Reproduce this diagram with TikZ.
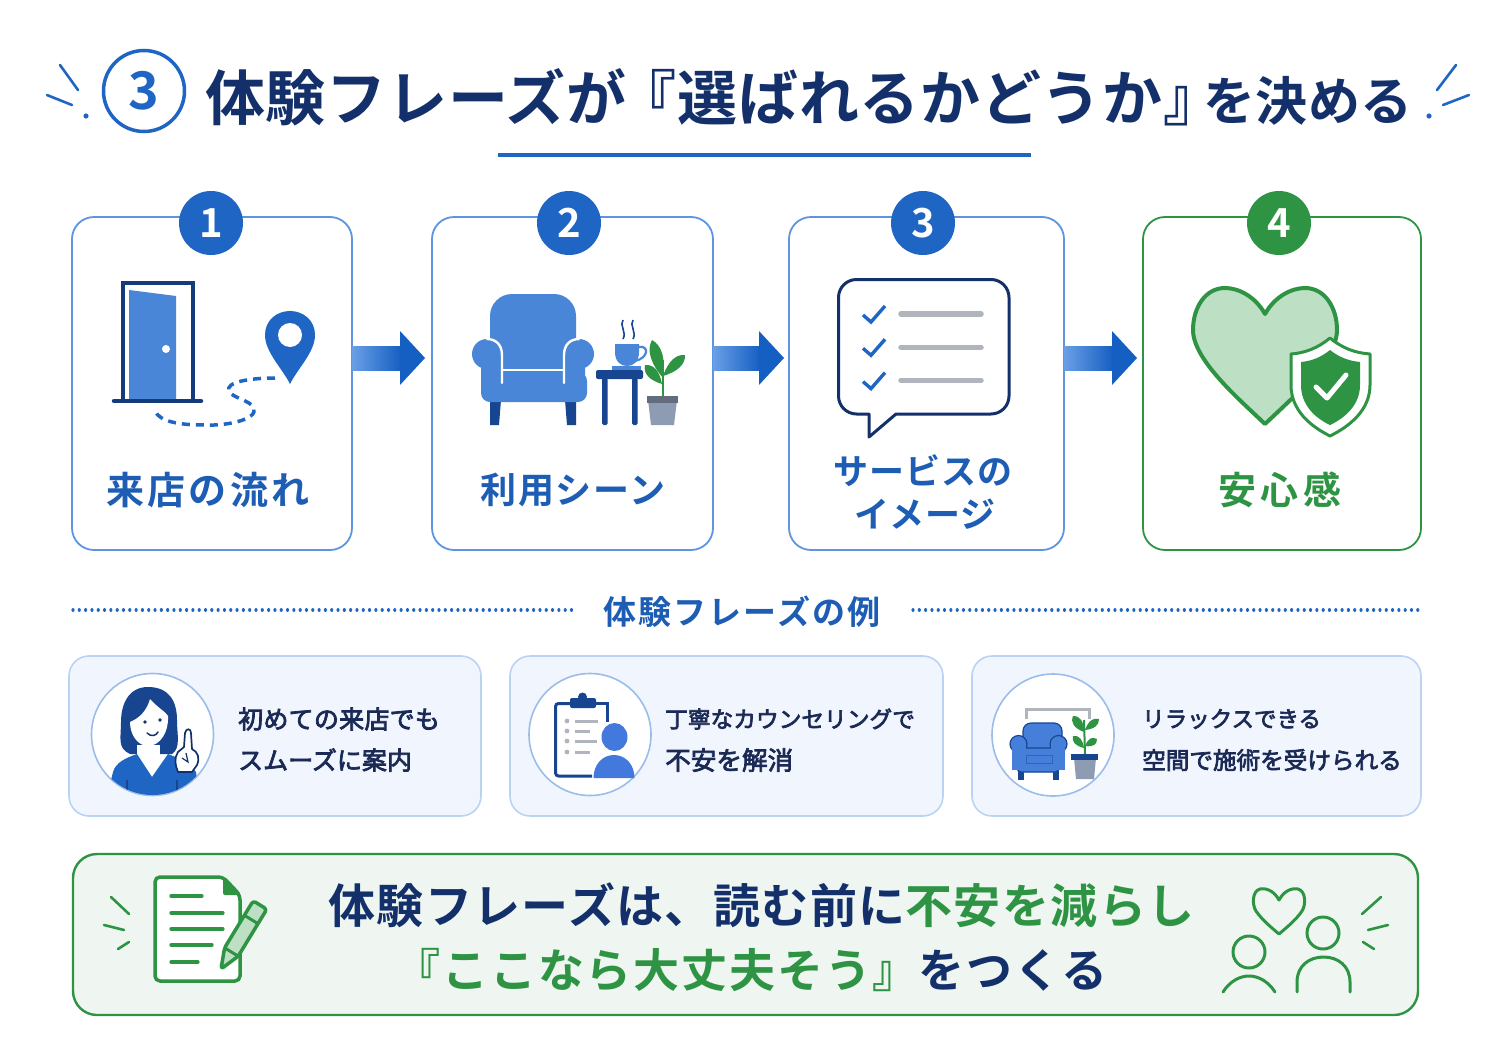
\documentclass[tikz,border=0pt]{standalone}
\usepackage{fontspec}
\usetikzlibrary{calc}
\setmainfont{Noto Sans CJK JP}
\newfontfamily\jb{Noto Sans CJK JP Bold}[BoldFont={Noto Sans CJK JP Bold}]
\newfontfamily\jm{Noto Sans CJK JP}[FakeBold=3]
\definecolor{blu}{HTML}{1F66C4}
\definecolor{chair}{HTML}{4A86D8}
\definecolor{navy}{HTML}{14306A}
\definecolor{dkblue}{HTML}{174590}
\definecolor{grn}{HTML}{2E9444}
\definecolor{ltgrn}{HTML}{BDE0C5}
\definecolor{pale}{HTML}{F1F5FD}
\definecolor{paleline}{HTML}{BBD3F3}
\definecolor{ring}{HTML}{9BBDEB}
\definecolor{banner}{HTML}{EFF6F1}
\definecolor{gry}{HTML}{B0B4BC}
\definecolor{pot}{HTML}{8D9BB3}
\definecolor{edge}{HTML}{5E95E0}
\definecolor{ink}{HTML}{1B2A55}
\definecolor{shafta}{HTML}{6A9FE6}
\definecolor{headb}{HTML}{155FC2}
\newcommand\sized[2]{\fontsize{#1}{#1}\selectfont\addfontfeatures{LetterSpace=#2}}
\newcommand\flowarrow[2]{\shade[left color=shafta,right color=headb] ($(#1)+(0,-12)$) -- ($(#2)+(-24,-12)$) -- ($(#2)+(-24,12)$) -- ($(#1)+(0,12)$) -- cycle;
\fill[headb] ($(#2)+(-25,-27)$) -- (#2) -- ($(#2)+(-25,27)$) -- cycle;}
\newcommand\leaf[4]{\fill[#4] (#1) .. controls ($(#1)!.45!(#2)!#3pt!90:(#2)$) and ($(#1)!.8!(#2)!#3pt!90:(#2)$) .. (#2) .. controls ($(#1)!.8!(#2)!#3pt!-90:(#2)$) and ($(#1)!.45!(#2)!#3pt!-90:(#2)$) .. (#1) -- cycle;}
\tikzset{
  x=1pt,y=-1pt,
  stepcard/.style={draw=edge,line width=1.8pt,fill=white,rounded corners=22pt,inner sep=0,outer sep=0},
  greencard/.style={stepcard,draw=grn},
  badge/.style={circle,fill=blu,text=white,minimum size=64pt,inner sep=0,font=\jb\sized{40}{0}},
  greenbadge/.style={badge,fill=grn},
  steplabel/.style={text=blu!92!black,inner sep=0,align=center},
  excard/.style={draw=paleline,line width=1.6pt,fill=pale,rounded corners=20pt,inner sep=0,outer sep=0},
  exring/.style={circle,draw=ring,line width=1.6pt,fill=white,minimum size=122pt,inner sep=0},
  extext/.style={text=ink,inner sep=0,anchor=west},
  spark/.style={line width=2.6pt,line cap=round,draw=blu},
  gspark/.style={line width=2.6pt,line cap=round,draw=grn},
  dotline/.style={draw=blu,line width=3.2pt,line cap=round,dash pattern=on 0.01pt off 6.3pt},
  gline/.style={draw=grn,line width=3.2pt,line cap=round},
}
\begin{document}
\begin{tikzpicture}
\useasboundingbox (0,0) rectangle (1491,1055);
\fill[white] (0,0) rectangle (1491,1055);

% ---- title
\node[circle,draw=blu,line width=3.5pt,minimum size=81pt,inner sep=0,text=blu,font=\jb\sized{52}{0}] (tnum) at (144,91) {3};
\node[inner sep=0,anchor=west,text=navy,font=\jb] (title) at (205,97) {\sized{60}{1.2}体験フレーズが\hspace{-0.16em}『選ばれるかどうか』\hspace{-0.34em}\sized{52}{1}を決める};
\draw[blu,line width=3.5pt] (498,155) -- (1031,155);
\draw[spark] (60,65) -- (78,90); \draw[spark] (47,95) -- (72,105); \fill[blu] (86,116) circle[radius=2.6pt];
\draw[spark] (1456,65) -- (1437,90); \draw[spark] (1469,95) -- (1443,105); \fill[blu] (1429,116) circle[radius=2.6pt];

% ---- step cards
\node[stepcard,minimum width=280pt,minimum height=333pt] (c1) at (212,383.5) {};
\node[stepcard,minimum width=281pt,minimum height=333pt] (c2) at (572.5,383.5) {};
\node[stepcard,minimum width=275pt,minimum height=333pt] (c3) at (926.5,383.5) {};
\node[greencard,minimum width=278pt,minimum height=333pt] (c4) at (1282,383.5) {};
\node[badge] (b1) at (211,223) {1};
\node[badge] (b2) at (569,223) {2};
\node[badge] (b3) at (923,223) {3};
\node[greenbadge] (b4) at (1279,223) {4};
\node[steplabel,font=\jb\sized{38}{8}] (l1) at (208,490) {来店の流れ};
\node[steplabel,font=\jb\sized{36}{5}] (l2) at (573,490) {利用シーン};
\node[steplabel,font=\jb\sized{35}{3}] (l3a) at (923,471) {サービスの};
\node[steplabel,font=\jb\sized{35}{2}] (l3b) at (925,514) {イメージ};
\node[steplabel,text=grn,font=\jb\sized{38}{11}] (l4) at (1280,490) {安心感};

% ---- connectors
\path (c1.east) ++(0,-25.5) coordinate (a1s);
\path (c2.west) ++(-7,-25.5) coordinate (a1e);
\path (c2.east) ++(0,-25.5) coordinate (a2s);
\path (c3.west) ++(-5,-25.5) coordinate (a2e);
\path (c3.east) ++(0,-25.5) coordinate (a3s);
\path (c4.west) ++(-6,-25.5) coordinate (a3e);
\flowarrow{a1s}{a1e}
\flowarrow{a2s}{a2e}
\flowarrow{a3s}{a3e}

% ---- door icon
\fill[chair] (129,290) -- (176,296) -- (176,399) -- (129,399) -- cycle;
\fill[white] (166,349) circle[radius=4pt];
\draw[dkblue!85!black,line width=4pt] (122.5,400) -- (122.5,283) -- (192.5,283) -- (192.5,400);
\draw[dkblue!85!black,line width=4.5pt,line cap=round] (114,401) -- (201,401);
\fill[blu] (290,384) .. controls (282,368) and (265,352) .. (265,335) .. controls (265,320) and (277,311) .. (290,311) .. controls (303,311) and (315,320) .. (315,335) .. controls (315,352) and (298,368) .. (290,384) -- cycle;
\fill[white] (290,335) circle[radius=12pt];
\draw[blu,line width=3.5pt,dash pattern=on 8pt off 6pt] (275,378) .. controls (250,378) and (225,382) .. (229,391) .. controls (232,398) and (250,400) .. (254,408) .. controls (258,420) and (225,426) .. (205,425) .. controls (180,425) and (160,422) .. (155,411);

% ---- chair icon
\fill[dkblue] (490,400) -- (501,400) -- (499,425) -- (490,425) -- cycle;
\fill[dkblue] (565,400) -- (576,400) -- (576,425) -- (567,425) -- cycle;
\fill[chair,rounded corners=22pt] (490,385) -- (490,294) -- (576,294) -- (576,385) -- cycle;
\fill[chair,rounded corners=9pt] (481,372) rectangle (587,402);
\fill[chair] (487,354) circle[radius=15pt];
\fill[chair] (579,354) circle[radius=15pt];
\fill[chair,rounded corners=5pt] (481,350) rectangle (502,385);
\fill[chair,rounded corners=5pt] (564,350) rectangle (585,385);
\draw[white,line width=2.4pt,line cap=round] (502,383) -- (502,355) .. controls (502,345) and (496,339) .. (487,339);
\draw[white,line width=2.4pt,line cap=round] (564,383) -- (564,355) .. controls (564,345) and (570,339) .. (579,339);
\draw[white,line width=2.4pt] (502,370) -- (564,370);
% table, cup
\fill[dkblue,rounded corners=2pt] (596,370) rectangle (643,379);
\fill[dkblue,rounded corners=1.5pt] (602,378) rectangle (607.5,425);
\fill[dkblue,rounded corners=1.5pt] (632,378) rectangle (637.5,425);
\fill[chair] (612,365.5) rectangle (641,369.5);
\fill[chair] (615,344) -- (639,344) -- (639,352) .. controls (639,362) and (633,366) .. (627,366) .. controls (621,366) and (615,362) .. (615,352) -- cycle;
\draw[chair,line width=2.2pt] (639,347) .. controls (649,345) and (649,358) .. (635,361);
\draw[dkblue,line width=1.6pt] (623,320) .. controls (619,325) and (627,332) .. (623,339);
\draw[dkblue,line width=1.6pt] (633,320) .. controls (629,325) and (637,332) .. (633,339);
% plant
\draw[grn,line width=2pt] (663,398) -- (663,360);
\leaf{663,378}{652,340}{8}{grn}
\leaf{663,376}{685,355}{7}{grn}
\leaf{662,384}{645,365}{7}{grn}
\fill[pot] (648,400) -- (677,400) -- (674,425) -- (651,425) -- cycle;
\fill[pot!70!black] (647,396) rectangle (678,403);

% ---- speech bubble
\draw[navy,line width=3pt,fill=white,line join=round] (869,437) -- (896,414) [rounded corners=18pt] -- (1009,414) -- (1009,279.5) -- (838.5,279.5) -- (838.5,414) [sharp corners] -- (869,414) -- cycle;
\foreach \yy in {0,33.3,66.6}{
  \draw[blu,line width=3.4pt] (863,315+\yy) -- (871,322+\yy) -- (885,306+\yy);
  \draw[gry,line width=5.5pt,line cap=round] (901,314+\yy) -- (981,314+\yy);
}

% ---- heart and shield
\draw[grn,line width=4pt,fill=ltgrn,line join=round] (1265,314) .. controls (1255,296) and (1238,288) .. (1225,288) .. controls (1205,288) and (1193,308) .. (1193,330) .. controls (1193,360) and (1240,400) .. (1265,424) .. controls (1290,400) and (1337,360) .. (1337,330) .. controls (1337,308) and (1325,288) .. (1305,288) .. controls (1292,288) and (1275,296) .. (1265,314) -- cycle;
\draw[grn,line width=3pt,fill=white,line join=round] (1330,338) .. controls (1342,348) and (1355,353) .. (1370,354) -- (1370,385) .. controls (1370,410) and (1350,426) .. (1330,436) .. controls (1310,426) and (1291,410) .. (1291,385) -- (1291,354) .. controls (1305,353) and (1318,348) .. (1330,338) -- cycle;
\fill[grn] (1330,350) .. controls (1340,358) and (1350,361) .. (1360,362) -- (1360,385) .. controls (1360,405) and (1345,418) .. (1330,425) .. controls (1315,418) and (1301,405) .. (1301,385) -- (1301,362) .. controls (1311,361) and (1320,358) .. (1330,350) -- cycle;
\draw[white,line width=5pt,line cap=round,line join=round] (1316,387) -- (1327,398) -- (1346,375);

% ---- section heading
\node[inner sep=0,text=blu!92!black,font=\jb\sized{33}{6}] (sec) at (742,612) {体験フレーズの例};
\coordinate (d1a) at (73,610); \coordinate (d1b) at (575,610);
\coordinate (d2a) at (913,610); \coordinate (d2b) at (1419,610);
\draw[dotline] (d1a) -- (d1b);
\draw[dotline] (d2a) -- (d2b);

% ---- example cards
\node[excard,minimum width=412pt,minimum height=160pt] (e1) at (275,736) {};
\node[excard,minimum width=433pt,minimum height=160pt] (e2) at (726.5,736) {};
\node[excard,minimum width=449pt,minimum height=160pt] (e3) at (1196.5,736) {};
\node[exring] (r1) at (152.5,734.5) {};
\node[exring] (r2) at (590,734.5) {};
\node[exring] (r3) at (1053,735) {};
\node[extext,font=\jm\sized{25}{1}] (t1a) at (238,719) {初めての来店でも};
\node[extext,font=\jm\sized{25}{0}] (t1b) at (238,760) {スムーズに案内};
\node[extext,font=\jm\sized{22.7}{0}] (t2a) at (665,719) {丁寧なカウンセリングで};
\node[extext,font=\jm\sized{25.6}{0}] (t2b) at (665,760) {不安を解消};
\node[extext,font=\jm\sized{22.5}{0}] (t3a) at (1142,719) {リラックスできる};
\node[extext,font=\jm\sized{23.6}{0}] (t3b) at (1142,760) {空間で施術を受けられる};

% person icon
\begin{scope}
\clip (152.5,734.5) circle[radius=60.5pt];
\fill[dkblue] (148,687) .. controls (128,687) and (121,705) .. (121,722) .. controls (121,738) and (117,748) .. (130,754) -- (172,754) .. controls (181,748) and (177,735) .. (177,720) .. controls (177,700) and (168,687) .. (148,687) -- cycle;
\fill[white] (137,745) rectangle (160,765);
\fill[white] (150,699) .. controls (158,708) and (166,712) .. (168,716) .. controls (169,732) and (160,746) .. (148,746) .. controls (138,746) and (130,735) .. (130,722) .. controls (140,718) and (147,710) .. (150,699) -- cycle;
\fill[blu] (106,800) -- (113,772) .. controls (116,762) and (126,758) .. (137,754) -- (152,777) -- (168,754) .. controls (178,758) and (190,762) .. (196,772) -- (200,800) -- cycle;
\draw[dkblue,line width=1.4pt] (127,780) -- (127,800);
\draw[dkblue,line width=1.4pt] (177,780) -- (177,800);
\end{scope}
\fill[navy] (145,722) circle[radius=1.8pt];
\fill[navy] (160,720) circle[radius=1.8pt];
\draw[navy,line width=1.5pt,line cap=round] (147,733) .. controls (151,737) and (156,736) .. (158,732);
\draw[navy,line width=1.7pt,fill=white,line join=round] (178,772) .. controls (175,765) and (174,758) .. (178,752) -- (184,747) -- (185,733) .. controls (186,728) and (191,728) .. (191,733) -- (192,749) .. controls (198,752) and (200,758) .. (197,765) -- (192,772) -- cycle;
\draw[navy,line width=1.2pt] (182,758) -- (188,762) -- (186,753);

% clipboard icon
\draw[dkblue,line width=3pt,rounded corners=3pt] (592,703.5) -- (555.5,703.5) -- (555.5,776) -- (592,776);
\draw[dkblue,line width=3pt] (596,703.5) -- (607,703.5) -- (607,722);
\fill[dkblue,rounded corners=2pt] (570,698) rectangle (596,708);
\fill[dkblue] (582.5,697) circle[radius=4.5pt];
\foreach \yy/\ll in {721/598,731/590,741/597,752/590}{
  \fill[gry] (567,\yy) circle[radius=2.4pt];
  \draw[gry,line width=3pt] (575,\yy) -- (\ll,\yy);
}
\fill[chair!90!blue] (614.5,737) ellipse[x radius=13pt,y radius=14pt];
\fill[chair!90!blue] (593.5,778) .. controls (593.5,765) and (602,755) .. (614,755) .. controls (626,755) and (634.5,765) .. (634.5,778) -- cycle;

% small chair and plant icon
\draw[gry,line width=3pt] (1026.5,719) -- (1026.5,709) -- (1089,709) -- (1089,719);
\fill[dkblue] (1018,770) rectangle (1023.5,780);
\fill[dkblue] (1053,770) rectangle (1058.5,780);
\draw[dkblue,line width=1.2pt,fill=chair!95!blue,rounded corners=8pt] (1023,758) -- (1023,723) -- (1062,723) -- (1062,758) -- cycle;
\draw[dkblue,line width=1.2pt,fill=chair!95!blue,rounded corners=4pt] (1017,748) rectangle (1059,772);
\draw[dkblue,line width=1.2pt,fill=chair!95!blue] (1018.5,744) circle[radius=8.5pt];
\draw[dkblue,line width=1.2pt,fill=chair!95!blue] (1058.5,744) circle[radius=8.5pt];
\fill[chair!95!blue] (1012,745) rectangle (1026,770);
\fill[chair!95!blue] (1051,745) rectangle (1065,770);
\draw[dkblue!50!chair,line width=1pt] (1026,755) rectangle (1052,763);
\draw[grn,line width=2pt] (1085,754) -- (1084,720);
\leaf{1084,732}{1073,716}{6}{grn}
\leaf{1085,730}{1099,719}{5}{grn}
\leaf{1084,748}{1073,736}{5}{grn}
\leaf{1085,746}{1097,739}{5}{grn}
\fill[pot] (1074,758) -- (1096,758) -- (1094,779) -- (1076,779) -- cycle;
\fill[dkblue] (1071,754) rectangle (1098,760);

% ---- banner
\node[draw=grn,line width=2.4pt,fill=banner,rounded corners=24pt,minimum width=1345pt,minimum height=161pt,inner sep=0,outer sep=0] (ban) at (745.5,934.5) {};
\node[inner sep=0,font=\jb\sized{47}{3},text=navy] (bt1) at (761.5,905) {体験フレーズは、読む前に\textcolor{grn}{不安を減らし}};
\node[inner sep=0,font=\jb\sized{46}{4},text=navy] (bt2) at (751,970) {\textcolor{grn}{『ここなら大丈夫そう』}をつくる};
% doc icon
\draw[grn,line width=3.5pt,fill=white,rounded corners=5pt] (155,877) -- (223,877) -- (240,895) -- (240,981) -- (155,981) -- cycle;
\fill[grn,rounded corners=2pt] (223,877) -- (240,895) -- (223,895) -- cycle;
\draw[gline] (171,896) -- (202,896);
\draw[gline] (171,913) -- (223,913);
\draw[gline] (171,929) -- (223,929);
\draw[gline] (171,945) -- (212,945);
\draw[gline] (171,962) -- (198,962);
\draw[banner,line width=9pt] (221,969) -- (231.4,952) -- (260,905);
\draw[grn,line width=3.5pt,fill=ltgrn,line join=round,rounded corners=3pt] (221,969) -- (224.6,947.8) -- (253.2,900.8) -- (266.8,909.2) -- (238.2,956.2) -- cycle;
\draw[grn,line width=3pt] (224.6,947.8) -- (238.2,956.2);
\draw[grn,line width=3pt] (244.4,915.3) -- (258,923.7);
\draw[gspark] (111,897) -- (129,914);
\draw[gspark] (104,925) -- (124,930);
\draw[gspark] (118,949) -- (129,942);
% people icon
\draw[grn,line width=3pt,line join=round] (1279,900) .. controls (1273,889) and (1264,888) .. (1260,889) .. controls (1252,891) and (1252,905) .. (1256,911) .. controls (1262,920) and (1272,928) .. (1279,934) .. controls (1286,928) and (1296,920) .. (1302,911) .. controls (1306,905) and (1306,891) .. (1298,889) .. controls (1294,888) and (1285,889) .. (1279,900) -- cycle;
\draw[grn,line width=3pt] (1249,952) circle[radius=16pt];
\draw[grn,line width=3pt] (1323,933) circle[radius=16pt];
\draw[grn,line width=3pt,line cap=round] (1223,992) .. controls (1230,981) and (1240,976) .. (1249,976) .. controls (1258,976) and (1268,981) .. (1275,992);
\draw[grn,line width=3pt,line cap=round] (1297,992) -- (1297,982) .. controls (1297,966) and (1309,957) .. (1323.5,957) .. controls (1338,957) and (1350,966) .. (1350,982) -- (1350,992);
\draw[gspark] (1381,897) -- (1362,914);
\draw[gspark] (1388,925) -- (1368,930);
\draw[gspark] (1374,949) -- (1363,942);
\end{tikzpicture}
\end{document}
